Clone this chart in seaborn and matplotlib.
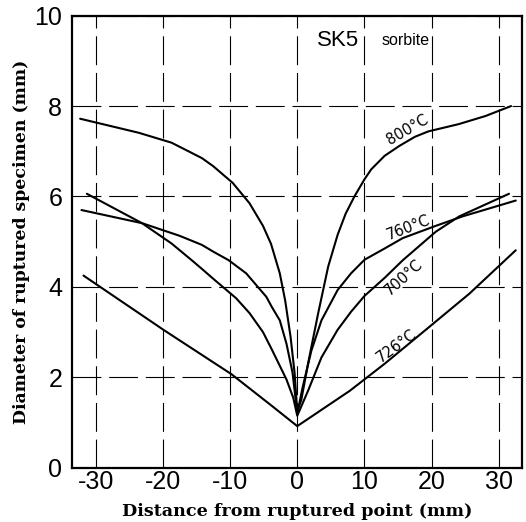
import matplotlib
matplotlib.use("Agg")
import matplotlib.pyplot as plt
import seaborn as sns
import pandas as pd

# ---- data ----
x_800 = [-32.3, -23.6, -18.7, -14.2, -12.5, -9.6, -7.1, -5.1, -3.9, -2.6, -1.8, -1.0, -0.4, 0.0,
         0.6, 1.6, 3.1, 4.6, 6.0, 7.2, 8.5, 10.0, 11.0, 13.0, 15.2, 17.5, 19.5, 24.0, 28.0, 31.8]
y_800 = [7.72, 7.41, 7.19, 6.85, 6.67, 6.30, 5.85, 5.35, 4.95, 4.30, 3.70, 2.90, 2.10, 1.25,
         1.50, 2.30, 3.41, 4.45, 5.15, 5.62, 6.00, 6.38, 6.60, 6.90, 7.12, 7.32, 7.44, 7.60, 7.78, 8.00]

x_760 = [-32.1, -23.1, -17.5, -14.2, -12.5, -10.2, -7.6, -4.6, -3.8, -2.6, -1.6, -0.7, 0.0,
         0.8, 2.1, 3.6, 6.0, 8.0, 10.0, 13.0, 15.7, 20.6, 24.6, 32.5]
y_760 = [5.70, 5.41, 5.13, 4.93, 4.78, 4.59, 4.30, 3.78, 3.56, 3.26, 2.74, 2.10, 1.20,
         1.78, 2.59, 3.26, 3.93, 4.30, 4.60, 4.85, 5.08, 5.35, 5.56, 5.91]

x_700 = [-31.3, -23.1, -18.7, -15.7, -14.2, -12.5, -9.1, -7.1, -5.1, -3.8, -1.6, -0.6, 0.0,
         1.6, 3.6, 6.0, 8.0, 10.0, 13.0, 15.7, 20.6, 24.1, 31.5]
y_700 = [6.06, 5.41, 4.96, 4.59, 4.40, 4.18, 3.75, 3.42, 3.00, 2.62, 1.95, 1.55, 1.15,
         1.70, 2.44, 3.05, 3.45, 3.80, 4.20, 4.59, 5.22, 5.56, 6.06]

x_726 = [-31.8, -19.8, -9.8, -3.8, 0.0, 7.8, 13.0, 19.6, 25.6, 32.5]
y_726 = [4.25, 3.04, 2.07, 1.37, 0.92, 1.70, 2.30, 3.11, 3.85, 4.81]

series_names = ["800°C", "760°C", "700°C", "726°C"]
x_ticks = [-30, -20, -10, 0, 10, 20, 30]
y_ticks = [0, 2, 4, 6, 8, 10]
x_label = "Distance from ruptured point (mm)"
y_label = "Diameter of ruptured specimen (mm)"
title_main = "SK5"
title_sub = "sorbite"

# labels on the curves: (text, x, y, rotation) - centre of text
curve_labels = [("800°C", 16.4, 7.48, 30),
                ("760°C", 16.5, 5.32, 21),
                ("700°C", 15.9, 4.22, 42),
                ("726°C", 14.7, 2.70, 36)]

frames = []
for name, xs, ys in zip(series_names, [x_800, x_760, x_700, x_726], [y_800, y_760, y_700, y_726]):
    frames.append(pd.DataFrame({"x": xs, "y": ys, "T": name}))
df = pd.concat(frames, ignore_index=True)

sns.set_style("white")
plt.rcParams["axes.unicode_minus"] = False
plt.rcParams["text.color"] = "black"
plt.rcParams["xtick.color"] = "black"
plt.rcParams["ytick.color"] = "black"
plt.rcParams["axes.labelcolor"] = "black"

fig = plt.figure(figsize=(5.26, 5.22), dpi=100)
ax = fig.add_axes([0.137, 0.104, 0.855, 0.866])

sns.lineplot(data=df, x="x", y="y", hue="T", palette=["black"] * 4,
             estimator=None, sort=True, legend=False, linewidth=1.5, ax=ax)

ax.set_xlim(-33.5, 33.4)
ax.set_ylim(0, 10)
ax.set_xticks(x_ticks)
ax.set_yticks(y_ticks)
ax.set_xticklabels([str(v) for v in x_ticks], fontfamily="Liberation Sans", fontsize=18)
ax.set_yticklabels([str(v) for v in y_ticks], fontfamily="Liberation Sans", fontsize=18)
ax.tick_params(axis="both", length=0)
ax.tick_params(axis="x", pad=2)
ax.tick_params(axis="y", pad=7)

ax.grid(True, color="black", linewidth=0.8, linestyle=(0, (26, 7)))
for s in ax.spines.values():
    s.set_color("black")
    s.set_linewidth(1.6)

ax.set_xlabel(x_label, fontfamily="DejaVu Serif", fontweight="bold", fontsize=12.6, labelpad=6)
ax.set_ylabel(y_label, fontfamily="DejaVu Serif", fontweight="bold", fontsize=12.4, labelpad=3)

ax.text(2.9, 9.44, title_main, fontfamily="Liberation Sans", fontsize=16, va="center", ha="left")
ax.text(12.5, 9.44, title_sub, fontfamily="Liberation Sans", fontsize=11.5, va="center", ha="left")

for txt, tx, ty, rot in curve_labels:
    ax.text(tx, ty, txt, fontfamily="DejaVu Sans", fontsize=10.5, rotation=rot,
            rotation_mode="anchor", ha="center", va="center", color="black")

fig.savefig("out.png", dpi=100)
